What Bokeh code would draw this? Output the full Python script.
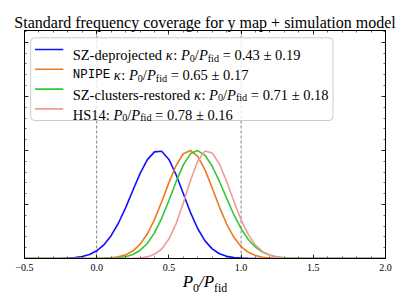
from bokeh.plotting import figure
from bokeh.models import (Range1d, SingleIntervalTicker, FixedTicker, Span, BoxAnnotation, Label,
                          LinearAxis, CustomJSTickFormatter)
from bokeh.embed import file_html
from bokeh.resources import INLINE

# ---------------- data ----------------
x_vals = [-0.50, -0.45, -0.40, -0.35, -0.30, -0.25, -0.20, -0.15, -0.10, -0.05,
          0.00, 0.05, 0.10, 0.15, 0.20, 0.25, 0.30, 0.35, 0.40, 0.45,
          0.50, 0.55, 0.60, 0.65, 0.70, 0.75, 0.80, 0.85, 0.90, 0.95,
          1.00, 1.05, 1.10, 1.15, 1.20, 1.25, 1.30, 1.35, 1.40, 1.45,
          1.50, 1.55, 1.60, 1.65, 1.70, 1.75, 1.80, 1.85, 1.90, 1.95, 2.00]

sz_deproj_y = [0, 0, 0, 0.0002, 0.0005, 0.0013, 0.0034, 0.0081, 0.018, 0.037,
               0.071, 0.127, 0.211, 0.326, 0.469, 0.629, 0.785, 0.913, 0.987, 0.993,
               0.917, 0.775, 0.599, 0.424, 0.275, 0.163, 0.089, 0.044, 0.020, 0.0083,
               0.0032, 0.0011, 0.0004, 0, 0, 0, 0, 0, 0, 0,
               0, 0, 0, 0, 0, 0, 0, 0, 0, 0, 0]

npipe_y = [0, 0, 0, 0, 0, 0, 0, 0, 0, 0.0002,
           0.0008, 0.0023, 0.0061, 0.0149, 0.0335, 0.069, 0.131, 0.226, 0.360, 0.525,
           0.702, 0.861, 0.969, 0.999, 0.945, 0.820, 0.653, 0.476, 0.319, 0.196,
           0.110, 0.057, 0.027, 0.0117, 0.0047, 0.0017, 0.0006, 0.0002, 0, 0,
           0, 0, 0, 0, 0, 0, 0, 0, 0, 0, 0]

sz_clusters_y = [0, 0, 0, 0, 0, 0, 0, 0, 0, 0,
                 0.0003, 0.0009, 0.0027, 0.0070, 0.0167, 0.037, 0.0745, 0.139, 0.237, 0.372,
                 0.536, 0.711, 0.867, 0.971, 0.999, 0.955, 0.854, 0.713, 0.556, 0.405,
                 0.276, 0.176, 0.105, 0.058, 0.030, 0.0147, 0.0067, 0.0028, 0.0011, 0.0004,
                 0.0001, 0, 0, 0, 0, 0, 0, 0, 0, 0, 0]

hs14_y = [0, 0, 0, 0, 0, 0, 0, 0, 0, 0,
          0, 0, 0, 0.0001, 0.0004, 0.0015, 0.0051, 0.0148, 0.0385, 0.088,
          0.180, 0.323, 0.514, 0.724, 0.902, 0.995, 0.977, 0.874, 0.713, 0.529,
          0.358, 0.221, 0.124, 0.0635, 0.0297, 0.0126, 0.0049, 0.0017, 0.0006, 0.0002,
          0, 0, 0, 0, 0, 0, 0, 0, 0, 0, 0]

series_names = ["SZ-deprojected", "NPIPE", "SZ-clusters-restored", "HS14"]
series_means = [0.43, 0.65, 0.71, 0.78]
series_errs = [0.19, 0.17, 0.18, 0.16]
series_kappa = [True, True, True, False]
series_y = [sz_deproj_y, npipe_y, sz_clusters_y, hs14_y]
series_colors = ["#1010ff", "#ef7a1c", "#34c834", "#f09a9a"]

ref_lines = [0.0, 1.0]
x_ticks = [-0.5, 0.0, 0.5, 1.0, 1.5, 2.0]
x_tick_labels = ["\u22120.5", "0.0", "0.5", "1.0", "1.5", "2.0"]

title_text = "Standard frequency coverage for y map + simulation model"

X0, X1 = -0.5, 2.0
Y0, Y1 = 0.0, 2.11

# ---------------- text metrics (Times / Liberation Serif, per 1000 em) ----------------
RM = dict(zip("abcdefghijklmnopqrstuvwxyz",
              [444, 500, 444, 500, 444, 333, 500, 500, 278, 278, 500, 278, 778,
               500, 500, 500, 500, 333, 389, 278, 500, 500, 722, 500, 500, 444]))
RM.update(zip("ABCDEFGHIJKLMNOPQRSTUVWXYZ",
              [722, 667, 667, 722, 611, 556, 722, 722, 333, 389, 722, 611, 889,
               722, 722, 556, 722, 667, 556, 611, 722, 722, 944, 722, 722, 611]))
RM.update({c: 500 for c in "0123456789"})
RM.update({" ": 250, "-": 333, ".": 250, "/": 278, ":": 278, "=": 564, "\u00b1": 564,
           "\u2212": 564, "+": 564})
IT = dict(RM)
IT.update({"P": 611, "\u03ba": 520, "y": 444, ":": 333})

SERIF = "Liberation Serif"
MONO = "Liberation Mono"

FW, FH = 361, 228
p = figure(frame_width=FW, frame_height=FH,
           x_range=Range1d(X0, X1), y_range=Range1d(Y0, Y1),
           output_backend="svg", toolbar_location=None,
           min_border_left=24, min_border_right=16, min_border_top=30, min_border_bottom=44,
           background_fill_color="white", border_fill_color="white")
p.xgrid.visible = False
p.ygrid.visible = False
p.outline_line_color = "black"
p.outline_line_width = 1

p.title.text = title_text
p.title.text_font = SERIF
p.title.text_font_size = "16px"
p.title.text_font_style = "normal"
p.title.text_color = "black"
p.title.align = "center"
try:
    p.title.offset = 4
except Exception:
    pass
try:
    p.title.standoff = -1
except Exception:
    try:
        p.title.standoff = 0
    except Exception:
        pass


def style_axis(ax, labels=True):
    ax.axis_line_color = "black"
    ax.axis_line_width = 1
    ax.major_tick_in = 4
    ax.major_tick_out = 0
    ax.minor_tick_in = 2
    ax.minor_tick_out = 0
    ax.major_tick_line_color = "black"
    ax.minor_tick_line_color = "black"
    ax.major_tick_line_width = 0.8
    ax.minor_tick_line_width = 0.6
    if not labels:
        ax.formatter = CustomJSTickFormatter(code="return ''")
        ax.major_label_standoff = 0
        ax.major_label_text_font_size = "1px"


p.xaxis.ticker = SingleIntervalTicker(interval=0.5, num_minor_ticks=5)
p.xaxis.major_label_overrides = {t: s for t, s in zip(x_ticks, x_tick_labels)}
p.xaxis.major_label_text_font = SERIF
p.xaxis.major_label_text_font_size = "10px"
p.xaxis.major_label_text_color = "black"
p.xaxis.major_label_standoff = 5
style_axis(p.xaxis[0])

p.yaxis.ticker = SingleIntervalTicker(interval=0.5, num_minor_ticks=5)
style_axis(p.yaxis[0], labels=False)

ax_top = LinearAxis(ticker=SingleIntervalTicker(interval=0.5, num_minor_ticks=5))
style_axis(ax_top, labels=False)
p.add_layout(ax_top, "above")
ax_right = LinearAxis(ticker=SingleIntervalTicker(interval=0.5, num_minor_ticks=5))
style_axis(ax_right, labels=False)
p.add_layout(ax_right, "right")

# reference lines
for xv in ref_lines:
    p.add_layout(Span(location=xv, dimension="height", line_color="#808080",
                      line_width=1, line_dash="3 2", level="underlay"))

# curves
for ys, col in zip(series_y, series_colors):
    p.line(x_vals, ys, line_color=col, line_width=1.6)


# ---------------- rich text helper (legend, inside the frame) ----------------
def piece_width(style, txt, size):
    if style == "tt":
        return 0.6 * size * len(txt)
    table = IT if style == "it" else RM
    return sum(table.get(c, 500) for c in txt) * size / 1000.0


def layout_pieces(pieces, base):
    out = []
    for style, txt in pieces:
        if style == "sub":
            size, dy, font, fst = base * 0.7, -base * 0.2, SERIF, "normal"
        elif style == "it":
            size, dy, font, fst = base, 0, SERIF, "italic"
        elif style == "tt":
            size, dy, font, fst = base * 0.86, 0, MONO, "normal"
        else:
            size, dy, font, fst = base, 0, SERIF, "normal"
        out.append((style, txt, size, dy, font, fst))
    return out


def draw_pieces(pieces, x0, y0, base):
    x = x0
    for st, txt, size, dy, font, fst in layout_pieces(pieces, base):
        lead = len(txt) - len(txt.lstrip(" "))
        shown = txt.strip(" ")
        if shown:
            p.add_layout(Label(x=x + piece_width(st, " " * lead, size), y=y0 + dy,
                               x_units="screen", y_units="screen", text=shown,
                               text_font=font, text_font_style=fst,
                               text_font_size=f"{size:.2f}px", text_color="black",
                               text_align="left", text_baseline="alphabetic"))
        x += piece_width(st, txt, size)


# ---------------- x-axis label P0/Pfid built from two label-only axes ----------------
XB = 17
SB = XB * 0.7
w_P = 611 * XB / 1000
w_0 = 500 * SB / 1000
w_sP = (278 + 611) * XB / 1000
w_fid = 1111 * SB / 1000
W_lab = w_P + w_0 + w_sP + w_fid
s_lab = FW / 2 - W_lab / 2


def to_data(off):
    return X0 + off * (X1 - X0) / FW


pos_P = to_data(s_lab + w_P / 2)
pos_0 = to_data(s_lab + w_P + w_0 / 2)
pos_sP = to_data(s_lab + w_P + w_0 + w_sP / 2)
pos_fid = to_data(s_lab + w_P + w_0 + w_sP + w_fid / 2)


def label_axis(ticks, texts, size, fstyle, standoff):
    ax = LinearAxis(ticker=FixedTicker(ticks=ticks, minor_ticks=[]))
    ax.major_label_overrides = {t: s for t, s in zip(ticks, texts)}
    ax.major_label_text_font = SERIF
    ax.major_label_text_font_style = fstyle
    ax.major_label_text_font_size = f"{size:.1f}px"
    ax.major_label_text_color = "black"
    ax.major_label_standoff = standoff
    ax.axis_line_color = None
    ax.major_tick_line_color = None
    ax.minor_tick_line_color = None
    ax.major_tick_in = 0
    ax.major_tick_out = 0
    ax.minor_tick_in = 0
    ax.minor_tick_out = 0
    return ax


p.add_layout(label_axis([pos_P, pos_sP], ["P", "/P"], XB, "italic", -2), "below")
p.add_layout(label_axis([pos_0, pos_fid], ["0", "fid"], SB, "normal", -13), "below")

# ---------------- legend ----------------
p.add_layout(BoxAnnotation(left=6.2, right=308.5, top=220.7, bottom=138,
                           left_units="screen", right_units="screen",
                           top_units="screen", bottom_units="screen",
                           fill_color="white", fill_alpha=0.8,
                           line_color="#cccccc", line_alpha=1, line_width=1,
                           border_radius=4))
LB = 14.5
row_gap = 19.8
for i, (nm, m, e, kap, col) in enumerate(zip(series_names, series_means, series_errs,
                                             series_kappa, series_colors)):
    base_y = 203.2 - i * row_gap
    p.add_layout(BoxAnnotation(left=10.5, right=38.8, top=base_y + 6.6, bottom=base_y + 5.0,
                               left_units="screen", right_units="screen",
                               top_units="screen", bottom_units="screen",
                               fill_color=col, fill_alpha=1, line_color=None))
    parts = [("tt" if nm == "NPIPE" else "rm", nm)]
    if kap:
        parts += [("rm", " "), ("it", "\u03ba"), ("rm", ": ")]
    else:
        parts += [("rm", ": ")]
    parts += [("it", "P"), ("sub", "0"), ("rm", "/"), ("it", "P"), ("sub", "fid"),
              ("rm", f" = {m:.2f} \u00b1 {e:.2f}")]
    draw_pieces(parts, 48.2, base_y, LB)

open("out.html", "w").write(file_html(p, INLINE))
